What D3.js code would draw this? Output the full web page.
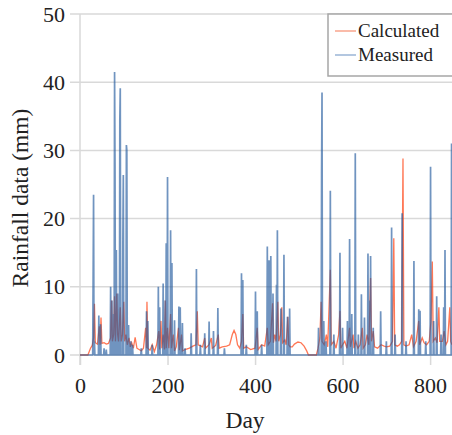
<!DOCTYPE html>
<html>
<head>
<meta charset="utf-8">
<script src="https://cdn.jsdelivr.net/npm/d3@7"></script>
<style>
  body { margin: 0; background: #fff; }
</style>
</head>
<body>
<div id="chart"></div>
<script>
const width = 452;
const height = 435;
const margin = { top: 14, right: 0, bottom: 80, left: 80 };
const serif = "'Liberation Serif', serif";

// Measured rainfall: rainy days only, [day, mm]; every other day is 0
const measuredRain = [
  [30, 11], [31, 23.5], [33, 2], [43, 5.8], [47, 4.5], [55, 1], [60, 0.8],
  [70, 10], [73, 8], [76, 6], [79, 41.5], [80, 27.6], [83, 15.4], [86, 9],
  [91, 34.3], [92, 39.1], [98, 17], [99, 26.4], [106, 30.8], [107, 30],
  [111, 4.4], [116, 2], [120, 1.5], [140, 1], [152, 6.4], [155, 5], [165, 1.5],
  [179, 10], [182, 7], [190, 10.5], [195, 8], [197, 16.4], [200, 26.1],
  [207, 18.3], [210, 13.5], [216, 5.1], [226, 7.1], [229, 7], [234, 4.7],
  [240, 1], [254, 3.2], [266, 12.6], [275, 1.5], [285, 3.2], [295, 4.9],
  [305, 3.5], [315, 6.9], [330, 1], [369, 12], [372, 11], [380, 1.5],
  [401, 9.3], [405, 6.4], [415, 1.5], [428, 15.9], [432, 13.9], [436, 14.5],
  [441, 9], [449, 10.3], [451, 18.3], [459, 6.8], [466, 14.7], [474, 5.6],
  [479, 6.8], [545, 4], [552, 27], [553, 38.5], [557, 5], [562, 2],
  [572, 24.1], [580, 3], [594, 15], [600, 4], [611, 5], [616, 17], [621, 6],
  [629, 29.6], [636, 3], [643, 8.9], [650, 5.5], [658, 14.9], [662, 8],
  [664, 14.5], [670, 4], [687, 6.4], [700, 2], [712, 18.7], [720, 3],
  [736, 20.8], [745, 2], [763, 13.8], [774, 6.7], [777, 6.5], [790, 2],
  [801, 27.6], [808, 5], [815, 8.6], [825, 3], [831, 7], [834, 15.4], [849, 31]
];

// Calculated rainfall, [day, mm]
const calculatedRain = [
  [0, 0], [18, 0], [24, 1.0], [28, 1.4], [31, 2.5], [33, 7.5], [35, 1.8], [40, 1.6],
  [44, 4.2], [46, 1.5], [48, 5.5], [50, 1.7], [55, 1.8], [60, 1.6], [65, 1.7],
  [70, 2.5], [72, 8], [74, 2], [77, 3], [79, 8.6], [81, 2], [84, 9], [86, 3],
  [88, 2], [92, 7], [94, 2], [97, 3], [100, 7.8], [102, 2], [105, 3], [108, 1.5],
  [112, 2.5], [115, 1.2], [118, 1.8], [122, 1], [126, 2.6], [130, 1], [135, 0.8],
  [140, 0.6], [145, 1], [150, 4], [152, 1], [153, 7.8], [155, 1], [160, 0.7],
  [165, 1.5], [170, 0.5], [175, 1.5], [180, 3.5], [182, 0.8], [185, 5], [187, 1],
  [190, 3], [193, 0.8], [195, 8], [197, 1], [200, 4], [203, 1], [207, 6], [209, 1],
  [213, 3], [216, 0.6], [220, 1.2], [225, 4], [227, 0.7], [232, 3], [234, 0.6],
  [240, 0.8], [250, 1], [258, 1.3], [265, 1.5], [268, 6.4], [270, 1.5], [280, 1.2],
  [285, 2.5], [287, 1], [295, 1.5], [300, 2.5], [302, 1], [310, 1.4], [316, 3],
  [318, 1], [325, 1.2], [335, 1.3], [342, 1.5], [348, 3], [352, 3.6], [356, 3],
  [360, 1.5], [365, 1], [369, 2], [372, 6], [374, 1], [380, 1.2], [390, 0.8],
  [400, 1], [405, 4], [407, 0.8], [415, 1.5], [422, 1.3], [428, 4], [430, 1.5],
  [435, 2], [440, 7.6], [442, 1.8], [445, 3], [448, 2], [452, 7.8], [454, 2],
  [458, 3], [461, 7], [463, 1.8], [468, 2.2], [471, 1.5], [475, 5.6], [477, 1.5],
  [480, 1.2], [485, 1.2], [490, 1.6], [498, 1.9], [505, 1.8], [512, 1.3],
  [518, 0.6], [522, 0], [540, 0], [544, 1], [548, 2.5], [551, 7.8], [553, 2],
  [558, 1.5], [563, 3], [566, 1.2], [572, 12.5], [574, 1.5], [580, 2], [585, 1],
  [591, 3], [594, 6.5], [596, 1], [600, 1.5], [605, 2], [610, 1], [616, 4],
  [618, 1.2], [624, 3], [626, 1], [630, 2], [635, 1], [640, 1.5], [645, 4],
  [647, 1], [652, 1.5], [656, 3], [660, 1.5], [664, 11.3], [666, 2], [670, 3.5],
  [673, 1.2], [680, 1], [688, 1.5], [695, 1.3], [700, 1.2], [708, 1.3], [714, 2],
  [717, 17.1], [719, 1.5], [725, 1.3], [730, 1.5], [735, 2], [738, 28.8],
  [740, 1.5], [745, 1.3], [752, 1.5], [758, 3], [762, 1.2], [768, 2], [774, 5],
  [776, 1.5], [782, 2.5], [786, 1.8], [792, 1.5], [798, 2], [802, 5], [805, 13.7],
  [807, 2], [812, 2.5], [816, 1.8], [820, 7], [822, 2], [828, 2], [832, 3.5],
  [836, 1.5], [840, 2], [845, 7], [847, 2], [850, 1.5]
];

const xTicks = [0, 200, 400, 600, 800];
const yTicks = [0, 10, 20, 30, 40, 50];
const seriesNames = ['Calculated', 'Measured'];

// daily measured series, zero on dry days
const rainByDay = new Map(measuredRain);
const measuredSeries = d3.range(0, 851).map(day => [day, rainByDay.get(day) || 0]);

const svg = d3.select('#chart')
  .append('svg')
  .attr('width', width)
  .attr('height', height)
  .attr('font-family', serif);

const x = d3.scaleLinear()
  .domain([0, 850])
  .range([margin.left, width - margin.right]);

const y = d3.scaleLinear()
  .domain([0, 50])
  .range([height - margin.bottom, margin.top]);

// gridlines
svg.append('g')
  .selectAll('line')
  .data(yTicks)
  .enter()
  .append('line')
  .attr('x1', margin.left - 10)
  .attr('x2', width)
  .attr('y1', d => y(d))
  .attr('y2', d => y(d))
  .attr('stroke', '#d9d9d9')
  .attr('stroke-width', 1.5);

// left axis line
svg.append('line')
  .attr('x1', x(0)).attr('x2', x(0))
  .attr('y1', y(50)).attr('y2', y(0) + 10)
  .attr('stroke', '#d9d9d9')
  .attr('stroke-width', 1.5);

// Y axis labels
const yAxis = d3.axisLeft(y).tickValues(yTicks).tickSize(0).tickPadding(15);
const yg = svg.append('g')
  .attr('transform', `translate(${margin.left},0)`)
  .call(yAxis)
  .call(g => g.select('.domain').remove());
yg.attr('font-family', serif).attr('font-size', 22);
yg.selectAll('text').attr('fill', '#222');

// X axis
const xAxis = d3.axisBottom(x).tickValues(xTicks).tickSize(10).tickPadding(12);
const xg = svg.append('g')
  .attr('transform', `translate(0,${y(0)})`)
  .call(xAxis)
  .call(g => g.select('.domain').remove());
xg.attr('font-family', serif).attr('font-size', 22);
xg.selectAll('line').attr('stroke', '#d9d9d9').attr('stroke-width', 1.5);
xg.selectAll('text').attr('fill', '#222');

// clip to the plot area
svg.append('clipPath')
  .attr('id', 'plot-clip')
  .append('rect')
  .attr('x', margin.left)
  .attr('y', 0)
  .attr('width', width - margin.left)
  .attr('height', y(0) + 2);

const line = d3.line()
  .x(d => x(d[0]))
  .y(d => y(d[1]));

const plot = svg.append('g').attr('clip-path', 'url(#plot-clip)');

plot.append('path')
  .datum(calculatedRain)
  .attr('fill', 'none')
  .attr('stroke', '#ff3d0d')
  .attr('stroke-opacity', 0.7)
  .attr('stroke-width', 1.3)
  .attr('d', line);

plot.append('path')
  .datum(measuredSeries)
  .attr('fill', 'none')
  .attr('stroke', '#245a9e')
  .attr('stroke-opacity', 0.65)
  .attr('stroke-width', 1.7)
  .attr('d', line);

// axis titles
svg.append('text')
  .attr('x', 245)
  .attr('y', 428)
  .attr('text-anchor', 'middle')
  .attr('font-size', 23.5)
  .attr('fill', '#222')
  .text('Day');

svg.append('text')
  .attr('transform', 'translate(28,198) rotate(-90)')
  .attr('text-anchor', 'middle')
  .attr('font-size', 23.5)
  .attr('fill', '#222')
  .text('Rainfall data (mm)');

// Legend
const legend = svg.append('g')
  .attr('transform', 'translate(328,14)');

legend.append('rect')
  .attr('width', 140)
  .attr('height', 62)
  .attr('fill', '#fff')
  .attr('stroke', '#a6a6a6')
  .attr('stroke-width', 1.5);

const legendColors = ['#f8a48c', '#9ab4d6'];
seriesNames.forEach((name, i) => {
  legend.append('line')
    .attr('x1', 7).attr('x2', 28)
    .attr('y1', 17 + i * 24).attr('y2', 17 + i * 24)
    .attr('stroke', legendColors[i])
    .attr('stroke-width', 1.5);
  legend.append('text')
    .attr('x', 30)
    .attr('y', 23 + i * 24)
    .attr('font-size', 19)
    .attr('fill', '#222')
    .text(name);
});
</script>
</body>
</html>
